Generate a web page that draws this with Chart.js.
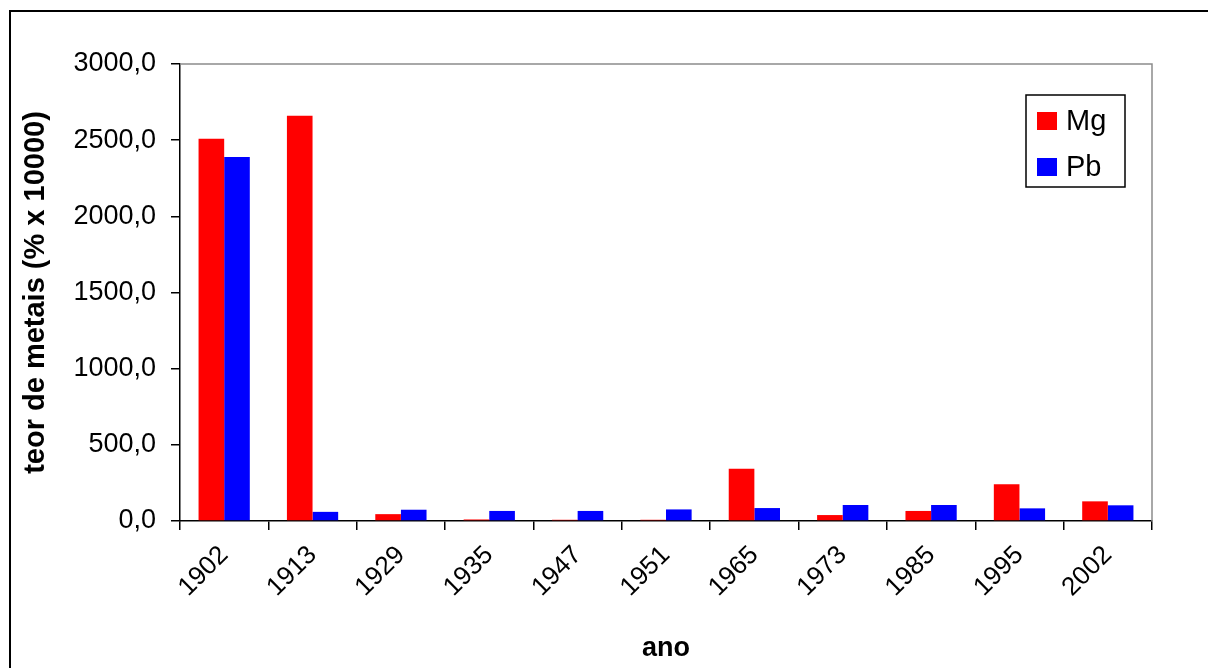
<!DOCTYPE html>
<html>
<head>
<meta charset="utf-8">
<script src="https://cdn.jsdelivr.net/npm/chart.js@4.4.1/dist/chart.umd.min.js"></script>
<style>
  html, body { margin: 0; padding: 0; background: #ffffff; }
  #wrap { width: 1208px; height: 668px; position: relative; }
</style>
</head>
<body>
<div id="wrap"><canvas id="c" width="1208" height="668"></canvas></div>
<script>
const categories = ["1902", "1913", "1929", "1935", "1947", "1951", "1965", "1973", "1985", "1995", "2002"];
const mgValues = [2510, 2660, 45, 10, 8, 8, 343, 39, 66, 241, 129];
const pbValues = [2390, 60, 74, 66, 66, 76, 85, 105, 105, 83, 103];
const seriesNames = ["Mg", "Pb"];
const seriesColors = ["#ff0000", "#0000ff"];
const yTicks = [0, 500, 1000, 1500, 2000, 2500, 3000];
const yTitle = "teor de metais (% x 10000)";
const xTitle = "ano";

const FONT = "'Liberation Sans', Arial, sans-serif";

const framePlugin = {
  id: 'frame',
  beforeDraw(chart) {
    const ctx = chart.ctx;
    ctx.save();
    ctx.fillStyle = '#ffffff';
    ctx.fillRect(0, 0, chart.width, chart.height);
    ctx.strokeStyle = '#000000';
    ctx.lineWidth = 2;
    ctx.strokeRect(10, 11, chart.width + 20, chart.height + 20);
    ctx.restore();
  },
  afterDatasetsDraw(chart) {
    const a = chart.chartArea;
    const ctx = chart.ctx;
    ctx.save();
    ctx.strokeStyle = '#8c8c8c';
    ctx.lineWidth = 1.5;
    ctx.beginPath();
    ctx.moveTo(a.left, a.top);
    ctx.lineTo(a.right, a.top);
    ctx.lineTo(a.right, a.bottom);
    ctx.stroke();
    // legend box
    const bx = a.right - 126, by = a.top + 31, bw = 99, bh = 92;
    ctx.fillStyle = '#ffffff';
    ctx.fillRect(bx, by, bw, bh);
    ctx.strokeStyle = '#000000';
    ctx.lineWidth = 1.5;
    ctx.strokeRect(bx, by, bw, bh);
    ctx.font = "29px " + FONT;
    ctx.textBaseline = 'middle';
    chart.data.datasets.forEach((ds, i) => {
      const cy = by + 26 + i * 46;
      ctx.fillStyle = ds.backgroundColor;
      ctx.fillRect(bx + 11, cy - 9, 20, 18);
      ctx.fillStyle = '#000000';
      ctx.fillText(ds.label, bx + 40, cy + 1);
    });
    ctx.restore();
  }
};

new Chart(document.getElementById('c'), {
  type: 'bar',
  data: {
    labels: categories,
    datasets: [
      { label: seriesNames[0], data: mgValues, backgroundColor: seriesColors[0], borderWidth: 0 },
      { label: seriesNames[1], data: pbValues, backgroundColor: seriesColors[1], borderWidth: 0 }
    ]
  },
  options: {
    responsive: false,
    animation: false,
    layout: { padding: { left: 0, right: 56, top: 64, bottom: 0 } },
    datasets: { bar: { categoryPercentage: 0.58, barPercentage: 1.0 } },
    plugins: { legend: { display: false }, tooltip: { enabled: false } },
    scales: {
      x: {
        grid: { display: true, drawOnChartArea: false, drawTicks: true, tickLength: 9, color: '#000000', lineWidth: 1.5, offset: true },
        border: { display: true, color: '#000000', width: 1.5 },
        ticks: { color: '#000000', font: { family: FONT, size: 26 }, maxRotation: 45, minRotation: 45, padding: 10 },
        title: { display: true, text: xTitle, color: '#000000', font: { family: FONT, size: 27, weight: 'bold' }, padding: { top: 0, bottom: 3 } },
        afterFit(s) { s.height = 147; }
      },
      y: {
        min: 0, max: 3000,
        afterBuildTicks(s) { s.ticks = yTicks.map(v => ({ value: v })); },
        grid: { display: true, drawOnChartArea: false, drawTicks: true, tickLength: 9, color: '#000000', lineWidth: 1.5 },
        border: { display: true, color: '#000000', width: 1.5 },
        ticks: { color: '#000000', font: { family: FONT, size: 27 }, padding: 15,
          callback: v => Number(v).toFixed(1).replace('.', ',') },
        title: { display: true, text: yTitle, color: '#000000', font: { family: FONT, size: 29, weight: 'bold' }, padding: { top: 19, bottom: 0 } },
        afterFit(s) { s.width = 180; }
      }
    }
  },
  plugins: [framePlugin]
});
</script>
</body>
</html>
